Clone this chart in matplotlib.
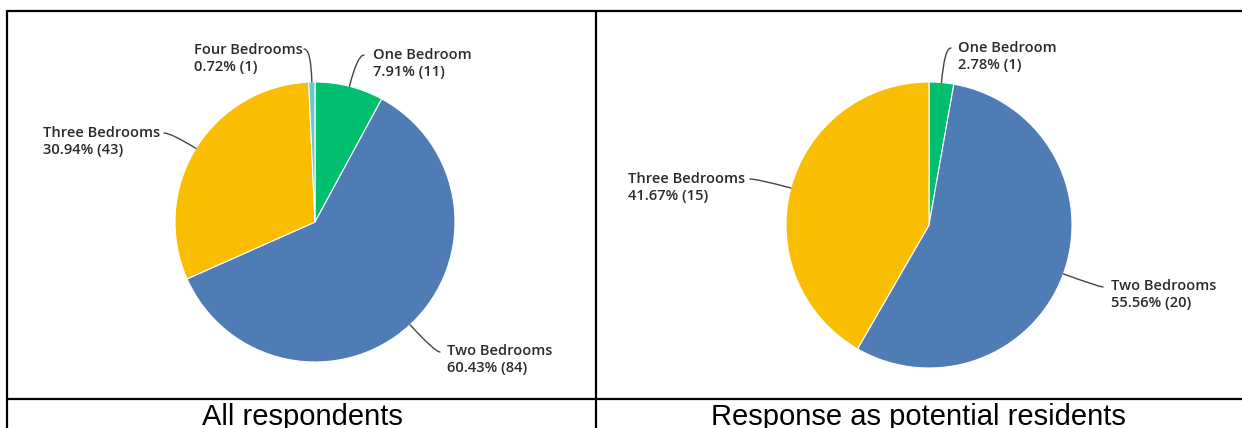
import numpy as np
import matplotlib
matplotlib.use("Agg")
import matplotlib.pyplot as plt

W, H = 1242, 428

# ---- data ----
left_labels = ["One Bedroom", "Two Bedrooms", "Three Bedrooms", "Four Bedrooms"]
left_pct = [7.91, 60.43, 30.94, 0.72]
left_counts = [11, 84, 43, 1]

right_labels = ["One Bedroom", "Two Bedrooms", "Three Bedrooms"]
right_pct = [2.78, 55.56, 41.67]
right_counts = [1, 20, 15]

captions = ["All respondents", "Response as potential residents"]

colors = {"One Bedroom": "#00BF6F", "Two Bedrooms": "#507CB6",
          "Three Bedrooms": "#F9BE00", "Four Bedrooms": "#6BC8CD"}

fig = plt.figure(figsize=(W / 100, H / 100), dpi=100)
ax = fig.add_axes([0, 0, 1, 1])


def py(y):
    return H - y


def draw_pie(labels, pct, counts, center_px, radius, label_pos, leader_end):
    cx, cy = center_px[0], py(center_px[1])
    wedges, _ = ax.pie(pct, colors=[colors[l] for l in labels], startangle=90,
                       counterclock=False, center=(cx, cy), radius=radius,
                       wedgeprops=dict(edgecolor="white", linewidth=0.8))
    for w, lab, p, c in zip(wedges, labels, pct, counts):
        mid = np.deg2rad((w.theta1 + w.theta2) / 2)
        ex, ey = cx + radius * np.cos(mid), cy + radius * np.sin(mid)
        tx, ty, ha = label_pos[lab]
        lx, ly = leader_end[lab]
        ang = np.rad2deg(mid)
        ax.annotate("", xy=(ex, ey), xytext=(lx, py(ly)),
                    arrowprops=dict(arrowstyle="-", color="#444444", lw=1.0,
                                    shrinkA=0, shrinkB=0,
                                    connectionstyle=f"angle3,angleA=0,angleB={ang:.1f}"))
        ax.text(tx, py(ty), f"{lab}\n{p:.2f}% ({c})", ha=ha, va="top",
                fontsize=10.5, fontfamily="Open Sans", fontweight="semibold",
                color="#2a2a2a", linespacing=1.3)


draw_pie(left_labels, left_pct, left_counts, (315, 222), 140,
         {"Four Bedrooms": (194, 43, "left"), "One Bedroom": (373, 48, "left"),
          "Three Bedrooms": (43, 126, "left"), "Two Bedrooms": (447, 344, "left")},
         {"Four Bedrooms": (304, 49), "One Bedroom": (364, 55),
          "Three Bedrooms": (164, 133), "Two Bedrooms": (440, 352)})

draw_pie(right_labels, right_pct, right_counts, (929, 225), 143,
         {"One Bedroom": (958, 41, "left"), "Three Bedrooms": (628, 172, "left"),
          "Two Bedrooms": (1111, 279, "left")},
         {"One Bedroom": (951, 48), "Three Bedrooms": (750, 179),
          "Two Bedrooms": (1103, 287)})

# table lines
lw = 1.6
ax.plot([7, W], [py(10.5), py(10.5)], color="black", lw=lw, solid_capstyle="butt")
ax.plot([7, W], [py(399), py(399)], color="black", lw=lw, solid_capstyle="butt")
ax.plot([7, 7], [py(10), 0], color="black", lw=lw, solid_capstyle="butt")
ax.plot([596, 596], [py(10), 0], color="black", lw=lw, solid_capstyle="butt")

ax.text(302, py(425), captions[0], ha="center", va="baseline",
        fontsize=21, fontfamily="Liberation Sans", color="black")
ax.text(918, py(425), captions[1], ha="center", va="baseline",
        fontsize=21, fontfamily="Liberation Sans", color="black")

ax.set_xlim(0, W)
ax.set_ylim(0, H)
ax.set_aspect("equal")
ax.axis("off")

fig.savefig("out.png", dpi=100)
